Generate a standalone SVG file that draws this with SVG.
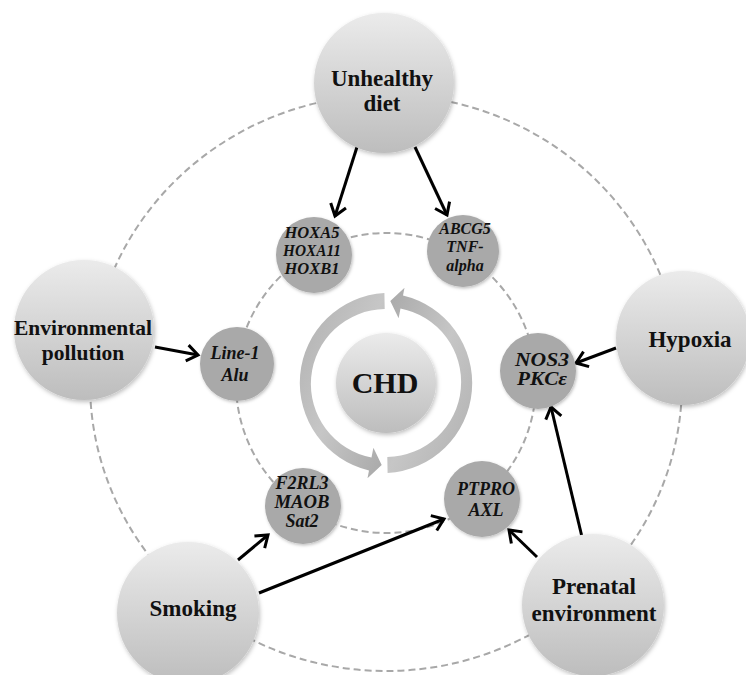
<svg xmlns="http://www.w3.org/2000/svg" width="746" height="675" viewBox="0 0 746 675">
<style>
.dash{fill:none;stroke:#a8a8a8;stroke-width:2;stroke-dasharray:7 4}
.big{fill:url(#gBig);filter:url(#sh)}
.small{fill:#a9a9a9;filter:url(#sh2)}
.bt{font-family:"Liberation Serif","Times New Roman",serif;font-weight:bold;font-size:23px;fill:#111;text-anchor:middle}
.st{font-family:"Liberation Serif","Times New Roman",serif;font-weight:bold;font-style:italic;font-size:18px;fill:#111;text-anchor:middle}
.arr{fill:none;stroke:#000;stroke-width:3;marker-end:url(#ah)}
</style>
<defs>
<linearGradient id="gBig" x1="0" y1="0" x2="0" y2="1">
<stop offset="0" stop-color="#ebebeb"/>
<stop offset="1" stop-color="#bdbdbd"/>
</linearGradient>
<linearGradient id="gRing" x1="0" y1="0" x2="1" y2="1">
<stop offset="0" stop-color="#b0b0b0"/>
<stop offset="0.5" stop-color="#c6c6c6"/>
<stop offset="1" stop-color="#a8a8a8"/>
</linearGradient>
<filter id="sh" x="-20%" y="-20%" width="140%" height="140%">
<feDropShadow dx="1" dy="2" stdDeviation="2" flood-color="#000" flood-opacity="0.25"/>
</filter>
<filter id="sh2" x="-20%" y="-20%" width="140%" height="140%">
<feDropShadow dx="1" dy="1.5" stdDeviation="1.5" flood-color="#000" flood-opacity="0.25"/>
</filter>
<marker id="ah" markerUnits="userSpaceOnUse" markerWidth="20" markerHeight="20" viewBox="-14 -10 16 20" refX="0" refY="0" orient="auto">
<path d="M -11 -8 L 0 0 L -11 8" fill="none" stroke="#000" stroke-width="3"/>
</marker>
<path id="ring" d="M 384.4 293 A 90 90 0 0 0 369.0 470.4 L 367.5 478.2 L 381.7 464.9 L 373.4 447.8 L 371.5 457.6 A 75 75 0 0 1 384.7 309 Z"/>
</defs>

<g id="orbits">
<ellipse class="dash" cx="386" cy="383" rx="296" ry="288"/>
<circle class="dash" cx="386" cy="383" r="150"/>
</g>

<g id="connectors">
<line class="arr" x1="357" y1="147" x2="335" y2="216"/>
<line class="arr" x1="415" y1="147" x2="447" y2="215"/>
<line class="arr" x1="155" y1="347" x2="198" y2="355"/>
<line class="arr" x1="616" y1="348" x2="576" y2="363"/>
<line class="arr" x1="582" y1="537" x2="551" y2="407"/>
<line class="arr" x1="537" y1="557" x2="509" y2="530"/>
<line class="arr" x1="238" y1="560" x2="268" y2="535"/>
<line class="arr" x1="259" y1="593" x2="444" y2="519"/>
</g>

<g id="cycle">
<use href="#ring" fill="url(#gRing)"/>
<use href="#ring" fill="url(#gRing)" transform="rotate(180 386 383)"/>
</g>

<g id="chd">
<circle class="big" cx="386" cy="383" r="50"/>
<text class="bt" x="385" y="393" style="font-size:30px">CHD</text>
</g>

<g id="unhealthy-diet">
<circle class="big" cx="384" cy="83" r="70"/>
<text class="bt" x="382" y="86">Unhealthy</text>
<text class="bt" x="382" y="111">diet</text>
</g>
<g id="environmental-pollution">
<circle class="big" cx="84" cy="330" r="70"/>
<text class="bt" x="83" y="335" style="font-size:21.5px">Environmental</text>
<text class="bt" x="83" y="360" style="font-size:21.5px">pollution</text>
</g>
<g id="hypoxia">
<circle class="big" cx="683" cy="338" r="67"/>
<text class="bt" x="690" y="347">Hypoxia</text>
</g>
<g id="smoking">
<circle class="big" cx="188" cy="613" r="71"/>
<text class="bt" x="193" y="616">Smoking</text>
</g>
<g id="prenatal-environment">
<circle class="big" cx="593" cy="605" r="71"/>
<text class="bt" x="594" y="594">Prenatal</text>
<text class="bt" x="594" y="621">environment</text>
</g>

<g id="hox">
<circle class="small" cx="314" cy="255" r="38"/>
<text class="st" x="312" y="238" style="font-size:16.5px">HOXA5</text>
<text class="st" x="312" y="256" style="font-size:16.5px" textLength="58" lengthAdjust="spacingAndGlyphs">HOXA11</text>
<text class="st" x="312" y="274" style="font-size:16.5px">HOXB1</text>
</g>
<g id="abcg5">
<circle class="small" cx="463" cy="251" r="36"/>
<text class="st" x="465" y="234" style="font-size:16px">ABCG5</text>
<text class="st" x="465" y="252" style="font-size:16px">TNF-</text>
<text class="st" x="465" y="271" style="font-size:16px">alpha</text>
</g>
<g id="line1">
<circle class="small" cx="237" cy="364" r="37"/>
<text class="st" x="235" y="359">Line-1</text>
<text class="st" x="235" y="381">Alu</text>
</g>
<g id="nos3">
<circle class="small" cx="538" cy="371" r="38"/>
<text class="st" x="542" y="366" textLength="54" lengthAdjust="spacingAndGlyphs">NOS3</text>
<text class="st" x="542" y="385" textLength="50" lengthAdjust="spacingAndGlyphs">PKCε</text>
</g>
<g id="f2rl3">
<circle class="small" cx="303" cy="506" r="38"/>
<text class="st" x="302" y="489">F2RL3</text>
<text class="st" x="302" y="508" textLength="55" lengthAdjust="spacingAndGlyphs">MAOB</text>
<text class="st" x="302" y="527">Sat2</text>
</g>
<g id="ptpro">
<circle class="small" cx="482" cy="499" r="38"/>
<text class="st" x="486" y="495">PTPRO</text>
<text class="st" x="486" y="516">AXL</text>
</g>
</svg>
